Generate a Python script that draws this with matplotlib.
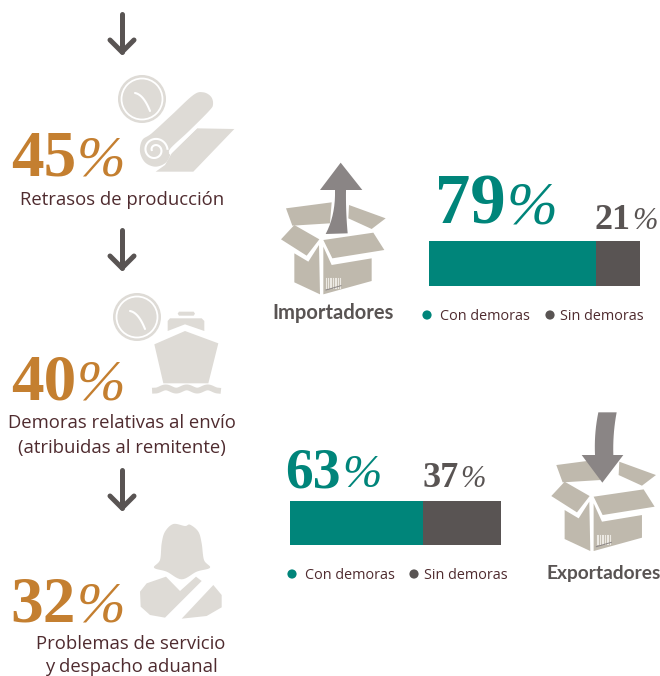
import numpy as np
import matplotlib
matplotlib.use('Agg')
import matplotlib.pyplot as plt
from matplotlib.patches import Polygon, Circle

# values
step_pcts = ['45', '40', '32']
step_labels = [['Retrasos de producción'],
               ['Demoras relativas al envío', '(atribuidas al remitente)'],
               ['Problemas de servicio', 'y despacho aduanal']]
groups = ['Importadores', 'Exportadores']
con_demoras = [79, 63]
sin_demoras = [21, 37]
legend_labels = ['Con demoras', 'Sin demoras']

ORANGE = '#c47f30'
TEAL = '#00857a'
GREY = '#595453'
ICON = '#dedbd6'
BOX = '#bfb9ad'
BOX_ARROW = '#8a8585'
TEXT = '#4f2b2f'
SANS = 'Open Sans'
SERIF = 'Liberation Serif'

W, H = 660, 676
fig = plt.figure(figsize=(W / 100, H / 100), dpi=100)
ax = fig.add_axes([0, 0, 1, 1])
ax.set_xlim(0, W)
ax.set_ylim(H, 0)
ax.axis('off')


def pct(value, split, base, size, color, psize):
    ax.text(split, base, value, family=SERIF, weight='bold', fontsize=size, color=color,
            ha='right', va='baseline')
    ax.text(split + 1, base, '%', family=SERIF, style='italic', fontsize=psize, color=color,
            ha='left', va='baseline')


def arrow(y):
    ax.plot([122, 122], [y, y + 38], color=GREY, lw=3.6, solid_capstyle='round')
    ax.plot([110, 122, 134], [y + 26, y + 38, y + 26], color=GREY, lw=3.6,
            solid_capstyle='round', solid_joinstyle='round')


def clock(cx, cy):
    ax.add_patch(Circle((cx, cy), 24, fc=ICON, ec='none'))
    ax.add_patch(Circle((cx, cy), 20.5, fc='none', ec='white', lw=1.3))
    t = np.linspace(0, 1, 20)[:, None]
    p = (1 - t) ** 2 * np.array([-7, -6]) + 2 * t * (1 - t) * np.array([1.5, -4.4]) + t ** 2 * np.array([8, 12])
    ax.plot(cx + p[:, 0], cy + p[:, 1], color='white', lw=1.5, solid_capstyle='round')


def rounded(points, n=8):
    # closed Catmull-Rom through the outline points, for the soft icon shapes
    pts = np.array(points, dtype=float)
    out = []
    for i in range(len(pts)):
        p0, p1, p2, p3 = pts[i - 1], pts[i], pts[(i + 1) % len(pts)], pts[(i + 2) % len(pts)]
        for t in np.linspace(0, 1, n, endpoint=False):
            out.append(0.5 * (2 * p1 + (p2 - p0) * t + (2 * p0 - 5 * p1 + 4 * p2 - p3) * t ** 2
                              + (3 * p1 - p0 - 3 * p2 + p3) * t ** 3))
    return out


def poly(points, ox, oy, color=ICON, k=3.0):
    pts = [(ox + x / k, oy + y / k) for x, y in points]
    ax.add_patch(Polygon(pts, closed=True, fc=color, ec='none'))


def roll():
    ox, oy = 135, 85
    poly([(185, 130), (298, 132), (175, 260), (62, 260), (90, 240), (110, 205)], ox, oy)
    poly(rounded([(175, 30), (205, 22), (228, 35), (234, 58), (222, 78), (160, 140), (105, 192),
                  (105, 212), (90, 235), (60, 245), (30, 232), (15, 200), (22, 165), (50, 145),
                  (110, 90)]), ox, oy)
    ax.plot([ox + 183 / 3, ox + 105 / 3], [oy + 130 / 3, oy + 205 / 3], color='white', lw=1.2)
    a = np.linspace(0.1, 3.0 * np.pi, 90)
    r = 12.5 - 9 * (a - 0.1) / (2.9 * np.pi)
    ax.plot(155 + r * np.cos(a), 150 - r * np.sin(a), color='white', lw=1.5)


def ship():
    ox, oy = 145, 305
    poly([(28, 118), (120, 78), (220, 115), (190, 235), (55, 235)], ox, oy)
    poly([(75, 40), (170, 40), (178, 48), (178, 78), (120, 58), (68, 78), (68, 48)], ox, oy)
    poly([(102, 20), (146, 20), (150, 26), (146, 32), (102, 32), (98, 26)], ox, oy)
    wx = np.linspace(155, 218, 60)
    ax.plot(wx, 389 + 1.6 * np.sin((wx - 155) / 63 * 6 * np.pi + 1.5), color=ICON, lw=4.2)


def person():
    ox, oy = 130, 520
    poly(rounded([(130, 12), (165, 18), (180, 14), (205, 35), (215, 70), (222, 120), (240, 143),
                  (200, 155), (155, 178), (110, 155), (72, 143), (90, 120), (95, 70), (105, 35)]), ox, oy)
    poly([(32, 260), (30, 215), (50, 190), (108, 170), (150, 213), (198, 170), (215, 183),
          (105, 293), (60, 285)], ox, oy)
    poly([(250, 195), (275, 225), (275, 262), (230, 288), (155, 296)], ox, oy)


def box(ox, oy):
    faces = [
        [(58, 295), (100, 320), (132, 270), (135, 418), (58, 382)],
        [(145, 418), (290, 378), (290, 310), (170, 330), (145, 275)],
        [(18, 253), (58, 210), (133, 253), (95, 302)],
        [(145, 255), (295, 233), (328, 285), (172, 310)],
        [(33, 160), (170, 142), (165, 205), (52, 212)],
        [(222, 150), (332, 190), (290, 222), (220, 190)],
    ]
    for f in faces:
        poly(f, ox, oy, BOX)
    # barcode on the box
    for bx in np.arange(154, 199, 5):
        ax.plot([ox + bx / 3, ox + bx / 3], [oy + 370 / 3, oy + 398 / 3], color='#ece9e3', lw=0.8)
    ax.plot([ox + 153 / 3, ox + 198 / 3], [oy + 405 / 3, oy + 392 / 3], color='#8a8585', lw=0.7)


def bend(p0, c, p1, n=10):
    return [tuple((1 - t) ** 2 * np.array(p0) + 2 * t * (1 - t) * np.array(c) + t ** 2 * np.array(p1))
            for t in np.linspace(0, 1, n)]


# left column
for y in [14, 230, 470]:
    arrow(y)
clock(142, 99)
roll()
clock(137, 317)
ship()
person()

pct(step_pcts[0], 76, 176, 47, ORANGE, 42)
pct(step_pcts[1], 76, 400, 47, ORANGE, 42)
pct(step_pcts[2], 76, 622, 47, ORANGE, 42)

ax.text(122, 200, step_labels[0][0], family=SANS, fontsize=13.35, color=TEXT, ha='center', va='center')
ax.text(122, 423, step_labels[1][0], family=SANS, fontsize=13.35, color=TEXT, ha='center', va='center')
ax.text(122, 448, step_labels[1][1], family=SANS, fontsize=13.35, color=TEXT, ha='center', va='center')
ax.text(131, 644, step_labels[2][0], family=SANS, fontsize=13.35, color=TEXT, ha='center', va='center')
ax.text(131, 666.5, step_labels[2][1], family=SANS, fontsize=13.35, color=TEXT, ha='center', va='center')

# importers
box(275, 155)
poly([(197, 23), (262, 105), (213, 105)] + bend((213, 105), (212, 170), (218, 235))
     + bend((152, 237), (182, 180), (180, 105)) + [(135, 105)], 275, 155, BOX_ARROW)
ax.text(333, 313, groups[0], family='Lato', weight='bold', fontsize=14.5, color=GREY,
        ha='center', va='center')

# exporters
box(545.3, 411.7)
poly(bend((985, 37), (972, 100), (975, 165)) + [(935, 165), (997, 248), (1060, 165), (1030, 165)]
     + bend((1030, 165), (1028, 100), (1040, 37)), 270, 400, BOX_ARROW)
ax.text(547, 573, groups[1], family='Lato', weight='bold', fontsize=13.8, color=GREY,
        ha='left', va='center')


def stacked(rect_px, con, sin):
    l, t, w, h = rect_px
    bar = fig.add_axes([l / W, 1 - (t + h) / H, w / W, h / H])
    bar.barh([0], [con], height=1, color=TEAL)
    bar.barh([0], [sin], left=[con], height=1, color=GREY)
    bar.set_xlim(0, con + sin)
    bar.set_ylim(-0.5, 0.5)
    bar.axis('off')


stacked((429, 241, 211, 45), con_demoras[0], sin_demoras[0])
stacked((290, 500.5, 211, 44.5), con_demoras[1], sin_demoras[1])

pct(str(con_demoras[0]), 506, 223, 51, TEAL, 44)
pct(str(sin_demoras[0]), 631, 229, 26, GREY, 22)
pct(str(con_demoras[1]), 341, 487, 40, TEAL, 34)
pct(str(sin_demoras[1]), 459, 487, 26, GREY, 22)

# legends
for dx, tx, sx, stx, ly in [(427, 440, 550, 560, 315), (292, 305, 414, 424, 574)]:
    ax.add_patch(Circle((dx, ly), 4.6, fc=TEAL, ec='none'))
    ax.text(tx, ly + 1.5, legend_labels[0], family=SANS, fontsize=10.4, color=TEXT, ha='left', va='center')
    ax.add_patch(Circle((sx, ly), 4.6, fc=GREY, ec='none'))
    ax.text(stx, ly + 1.5, legend_labels[1], family=SANS, fontsize=10.4, color=TEXT, ha='left', va='center')

fig.savefig('out.png', dpi=100)
